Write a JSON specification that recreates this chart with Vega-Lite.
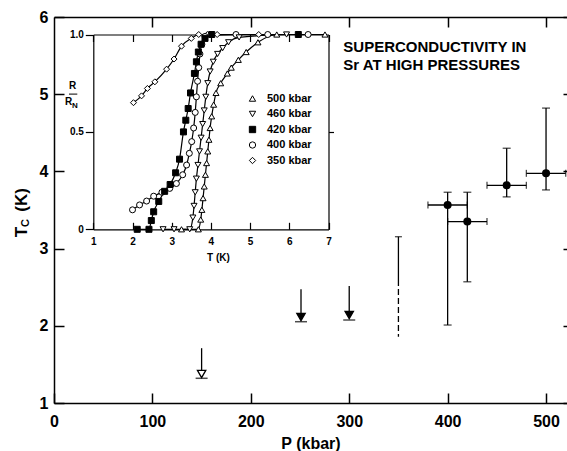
{
  "$schema": "https://vega.github.io/schema/vega-lite/v6.json",
  "width": 513,
  "height": 386,
  "autosize": {"type": "none"},
  "padding": {"left": 54, "top": 17, "right": 0, "bottom": 48},
  "background": "white",
  "config": {
    "view": {"stroke": null},
    "font": "Liberation Sans",
    "axis": {"domainColor": "black", "tickColor": "black", "labelColor": "black", "titleColor": "black", "grid": false, "domainWidth": 1.5, "tickWidth": 1.5, "labelOverlap": false, "labelFlush": false, "labelBound": false}
  },
  "datasets": {
    "main": [
      {"P": 400, "Tc": 3.565, "Tlo": 2.01, "Thi": 3.73, "Plo": 380, "Phi": 420},
      {"P": 420, "Tc": 3.35, "Tlo": 2.57, "Thi": 3.73, "Plo": 400, "Phi": 440},
      {"P": 460, "Tc": 3.82, "Tlo": 3.67, "Thi": 4.30, "Plo": 440, "Phi": 480},
      {"P": 500, "Tc": 3.975, "Tlo": 3.76, "Thi": 4.82, "Plo": 480, "Phi": 520}
    ],
    "limits": [
      {"P": 150, "top": 1.71, "Tc": 1.376, "bar": 1.32, "kind": "open"},
      {"P": 251, "top": 2.473, "Tc": 2.114, "bar": 2.053, "kind": "filled"},
      {"P": 300, "top": 2.516, "Tc": 2.14, "bar": 2.075, "kind": "filled"}
    ],
    "p350": [
      {"P": 350, "from": 3.154, "to": 2.593, "segment": "solid"},
      {"P": 350, "from": 2.593, "to": 1.859, "segment": "dashed"}
    ],
    "heading": [
      {"P": 294, "Tc": 5.615, "text": "SUPERCONDUCTIVITY IN"},
      {"P": 294, "Tc": 5.372, "text": "Sr AT HIGH PRESSURES"}
    ],
    "ytitle": [
      {"P": -32.5, "Tc": 3.215, "text": "T"},
      {"P": -32.5, "Tc": 3.63, "text": "(K)"}
    ],
    "ysub": [{"P": -28.5, "Tc": 3.33, "text": "C"}],
    "rn": [
      {"T": 0.469, "R": 0.735, "text": "R"},
      {"T": 0.372, "R": 0.656, "text": "R"}
    ],
    "rnsub": [{"T": 0.528, "R": 0.635, "text": "N"}],
    "rnbar": [{"T": 0.38, "T2": 0.592, "R": 0.694}],
    "curves": [
      {"series": "350 kbar", "T": 2.025, "R": 0.65},
      {"series": "350 kbar", "T": 2.23, "R": 0.685},
      {"series": "350 kbar", "T": 2.38, "R": 0.723},
      {"series": "350 kbar", "T": 2.57, "R": 0.757},
      {"series": "350 kbar", "T": 2.87, "R": 0.822},
      {"series": "350 kbar", "T": 3.06, "R": 0.874},
      {"series": "350 kbar", "T": 3.25, "R": 0.94},
      {"series": "350 kbar", "T": 3.5, "R": 0.98},
      {"series": "350 kbar", "T": 3.69, "R": 1.0},
      {"series": "350 kbar", "T": 3.91, "R": 1.0},
      {"series": "350 kbar", "T": 4.16, "R": 1.0},
      {"series": "350 kbar", "T": 5.22, "R": 1.0},
      {"series": "400 kbar", "T": 2.0, "R": 0.1},
      {"series": "400 kbar", "T": 2.18, "R": 0.125},
      {"series": "400 kbar", "T": 2.36, "R": 0.145},
      {"series": "400 kbar", "T": 2.54, "R": 0.17},
      {"series": "400 kbar", "T": 2.75, "R": 0.19},
      {"series": "400 kbar", "T": 2.95, "R": 0.21},
      {"series": "400 kbar", "T": 3.12, "R": 0.235},
      {"series": "400 kbar", "T": 3.28, "R": 0.28},
      {"series": "400 kbar", "T": 3.38, "R": 0.33},
      {"series": "400 kbar", "T": 3.45, "R": 0.39},
      {"series": "400 kbar", "T": 3.51, "R": 0.45},
      {"series": "400 kbar", "T": 3.56, "R": 0.52},
      {"series": "400 kbar", "T": 3.6, "R": 0.6},
      {"series": "400 kbar", "T": 3.63, "R": 0.68},
      {"series": "400 kbar", "T": 3.66, "R": 0.76},
      {"series": "400 kbar", "T": 3.69, "R": 0.83},
      {"series": "400 kbar", "T": 3.72, "R": 0.9},
      {"series": "400 kbar", "T": 3.77, "R": 0.95},
      {"series": "400 kbar", "T": 3.85, "R": 0.99},
      {"series": "400 kbar", "T": 4.64, "R": 1.0},
      {"series": "400 kbar", "T": 5.45, "R": 1.0},
      {"series": "400 kbar", "T": 6.48, "R": 1.0},
      {"series": "420 kbar", "T": 2.12, "R": 0.0},
      {"series": "420 kbar", "T": 2.42, "R": 0.0},
      {"series": "420 kbar", "T": 2.48, "R": 0.045},
      {"series": "420 kbar", "T": 2.54, "R": 0.09},
      {"series": "420 kbar", "T": 2.67, "R": 0.143},
      {"series": "420 kbar", "T": 2.82, "R": 0.195},
      {"series": "420 kbar", "T": 2.96, "R": 0.23},
      {"series": "420 kbar", "T": 3.1, "R": 0.29},
      {"series": "420 kbar", "T": 3.2, "R": 0.36},
      {"series": "420 kbar", "T": 3.3, "R": 0.5},
      {"series": "420 kbar", "T": 3.36, "R": 0.56},
      {"series": "420 kbar", "T": 3.42, "R": 0.62},
      {"series": "420 kbar", "T": 3.48, "R": 0.7},
      {"series": "420 kbar", "T": 3.58, "R": 0.8},
      {"series": "420 kbar", "T": 3.63, "R": 0.86},
      {"series": "420 kbar", "T": 3.68, "R": 0.91},
      {"series": "420 kbar", "T": 3.75, "R": 0.95},
      {"series": "420 kbar", "T": 3.85, "R": 0.98},
      {"series": "420 kbar", "T": 4.02, "R": 1.0},
      {"series": "420 kbar", "T": 6.23, "R": 1.0},
      {"series": "460 kbar", "T": 2.78, "R": 0.0},
      {"series": "460 kbar", "T": 3.06, "R": 0.0},
      {"series": "460 kbar", "T": 3.46, "R": 0.0},
      {"series": "460 kbar", "T": 3.54, "R": 0.06},
      {"series": "460 kbar", "T": 3.57, "R": 0.12},
      {"series": "460 kbar", "T": 3.6, "R": 0.19},
      {"series": "460 kbar", "T": 3.63, "R": 0.26},
      {"series": "460 kbar", "T": 3.67, "R": 0.33},
      {"series": "460 kbar", "T": 3.71, "R": 0.4},
      {"series": "460 kbar", "T": 3.75, "R": 0.47},
      {"series": "460 kbar", "T": 3.79, "R": 0.54},
      {"series": "460 kbar", "T": 3.83, "R": 0.61},
      {"series": "460 kbar", "T": 3.87, "R": 0.68},
      {"series": "460 kbar", "T": 3.92, "R": 0.75},
      {"series": "460 kbar", "T": 3.98, "R": 0.81},
      {"series": "460 kbar", "T": 4.06, "R": 0.86},
      {"series": "460 kbar", "T": 4.17, "R": 0.9},
      {"series": "460 kbar", "T": 4.3, "R": 0.93},
      {"series": "460 kbar", "T": 4.45, "R": 0.96},
      {"series": "460 kbar", "T": 4.72, "R": 0.985},
      {"series": "460 kbar", "T": 5.93, "R": 1.0},
      {"series": "500 kbar", "T": 3.25, "R": 0.0},
      {"series": "500 kbar", "T": 3.68, "R": 0.0},
      {"series": "500 kbar", "T": 3.74, "R": 0.05},
      {"series": "500 kbar", "T": 3.77, "R": 0.1},
      {"series": "500 kbar", "T": 3.8, "R": 0.16},
      {"series": "500 kbar", "T": 3.83, "R": 0.22},
      {"series": "500 kbar", "T": 3.86, "R": 0.28},
      {"series": "500 kbar", "T": 3.89, "R": 0.34},
      {"series": "500 kbar", "T": 3.92, "R": 0.4},
      {"series": "500 kbar", "T": 3.95, "R": 0.46},
      {"series": "500 kbar", "T": 3.98, "R": 0.52},
      {"series": "500 kbar", "T": 4.02, "R": 0.58},
      {"series": "500 kbar", "T": 4.07, "R": 0.64},
      {"series": "500 kbar", "T": 4.13, "R": 0.7},
      {"series": "500 kbar", "T": 4.25, "R": 0.75},
      {"series": "500 kbar", "T": 4.42, "R": 0.8},
      {"series": "500 kbar", "T": 4.52, "R": 0.83},
      {"series": "500 kbar", "T": 4.7, "R": 0.87},
      {"series": "500 kbar", "T": 4.9, "R": 0.91},
      {"series": "500 kbar", "T": 5.2, "R": 0.96},
      {"series": "500 kbar", "T": 5.68, "R": 1.0},
      {"series": "500 kbar", "T": 6.91, "R": 1.0}
    ]
  },
  "layer": [
    {
      "layer": [
        {
          "data": {"name": "main"},
          "mark": {"type": "rule", "color": "black", "strokeWidth": 1.3},
          "encoding": {
            "x": {"field": "P", "type": "quantitative", "scale": {"domain": [0, 521.3], "nice": false, "zero": false},
              "axis": {"orient": "bottom", "values": [0, 100, 200, 300, 400, 500], "tickSize": -10, "labelPadding": 20, "labelFontSize": 16, "labelFontWeight": "bold", "title": "P (kbar)", "titleFontSize": 16, "titleFontWeight": "bold", "titlePadding": 6}},
            "y": {"field": "Tlo", "type": "quantitative", "scale": {"domain": [1, 6], "nice": false, "zero": false},
              "axis": {"orient": "left", "values": [1, 2, 3, 4, 5, 6], "tickSize": -10, "labelPadding": 16, "labelFontSize": 16, "labelFontWeight": "bold", "title": null}},
            "y2": {"field": "Thi"}
          }
        },
        {
          "data": {"name": "main"},
          "mark": {"type": "rule", "color": "black", "strokeWidth": 1.3},
          "encoding": {
            "x": {"field": "Plo", "type": "quantitative", "scale": {"domain": [0, 521.3], "nice": false, "zero": false}, "axis": null},
            "x2": {"field": "Phi"},
            "y": {"field": "Tc", "type": "quantitative", "scale": {"domain": [1, 6], "nice": false, "zero": false}, "axis": null}
          }
        },
        {
          "data": {"name": "main"},
          "mark": {"type": "tick", "orient": "horizontal", "color": "black", "size": 8, "thickness": 1.3},
          "encoding": {
            "x": {"field": "P", "type": "quantitative", "scale": {"domain": [0, 521.3], "nice": false, "zero": false}, "axis": null},
            "y": {"field": "Thi", "type": "quantitative", "scale": {"domain": [1, 6], "nice": false, "zero": false}, "axis": null}
          }
        },
        {
          "data": {"name": "main"},
          "mark": {"type": "tick", "orient": "horizontal", "color": "black", "size": 8, "thickness": 1.3},
          "encoding": {
            "x": {"field": "P", "type": "quantitative", "scale": {"domain": [0, 521.3], "nice": false, "zero": false}, "axis": null},
            "y": {"field": "Tlo", "type": "quantitative", "scale": {"domain": [1, 6], "nice": false, "zero": false}, "axis": null}
          }
        },
        {
          "data": {"name": "main"},
          "mark": {"type": "tick", "orient": "vertical", "color": "black", "size": 7, "thickness": 1.3},
          "encoding": {
            "x": {"field": "Plo", "type": "quantitative", "scale": {"domain": [0, 521.3], "nice": false, "zero": false}, "axis": null},
            "y": {"field": "Tc", "type": "quantitative", "scale": {"domain": [1, 6], "nice": false, "zero": false}, "axis": null}
          }
        },
        {
          "data": {"name": "main"},
          "mark": {"type": "tick", "orient": "vertical", "color": "black", "size": 7, "thickness": 1.3},
          "encoding": {
            "x": {"field": "Phi", "type": "quantitative", "scale": {"domain": [0, 521.3], "nice": false, "zero": false}, "axis": null},
            "y": {"field": "Tc", "type": "quantitative", "scale": {"domain": [1, 6], "nice": false, "zero": false}, "axis": null}
          }
        },
        {
          "data": {"name": "main"},
          "mark": {"type": "point", "shape": "circle", "filled": true, "color": "black", "size": 64, "opacity": 1},
          "encoding": {
            "x": {"field": "P", "type": "quantitative", "scale": {"domain": [0, 521.3], "nice": false, "zero": false}, "axis": null},
            "y": {"field": "Tc", "type": "quantitative", "scale": {"domain": [1, 6], "nice": false, "zero": false}, "axis": null}
          }
        },
        {
          "data": {"name": "p350"},
          "mark": {"type": "rule", "color": "black", "strokeWidth": 1.3},
          "encoding": {
            "x": {"field": "P", "type": "quantitative", "scale": {"domain": [0, 521.3], "nice": false, "zero": false}, "axis": null},
            "y": {"field": "from", "type": "quantitative", "scale": {"domain": [1, 6], "nice": false, "zero": false}, "axis": null},
            "y2": {"field": "to"},
            "strokeDash": {"field": "segment", "type": "nominal", "scale": {"domain": ["solid", "dashed"], "range": [[1, 0], [6, 3]]}, "legend": null}
          }
        },
        {
          "data": {"name": "p350"},
          "transform": [{"filter": "datum.segment == 'solid'"}],
          "mark": {"type": "tick", "orient": "horizontal", "color": "black", "size": 7, "thickness": 1.3},
          "encoding": {
            "x": {"field": "P", "type": "quantitative", "scale": {"domain": [0, 521.3], "nice": false, "zero": false}, "axis": null},
            "y": {"field": "from", "type": "quantitative", "scale": {"domain": [1, 6], "nice": false, "zero": false}, "axis": null}
          }
        },
        {
          "data": {"name": "limits"},
          "mark": {"type": "rule", "color": "black", "strokeWidth": 1.3},
          "encoding": {
            "x": {"field": "P", "type": "quantitative", "scale": {"domain": [0, 521.3], "nice": false, "zero": false}, "axis": null},
            "y": {"field": "top", "type": "quantitative", "scale": {"domain": [1, 6], "nice": false, "zero": false}, "axis": null},
            "y2": {"field": "Tc"}
          }
        },
        {
          "data": {"name": "limits"},
          "mark": {"type": "tick", "orient": "horizontal", "color": "black", "size": 12, "thickness": 1.5},
          "encoding": {
            "x": {"field": "P", "type": "quantitative", "scale": {"domain": [0, 521.3], "nice": false, "zero": false}, "axis": null},
            "y": {"field": "bar", "type": "quantitative", "scale": {"domain": [1, 6], "nice": false, "zero": false}, "axis": null}
          }
        },
        {
          "data": {"name": "limits"},
          "mark": {"type": "point", "shape": "triangle-down", "size": 70, "stroke": "black", "strokeWidth": 1.3, "opacity": 1},
          "encoding": {
            "x": {"field": "P", "type": "quantitative", "scale": {"domain": [0, 521.3], "nice": false, "zero": false}, "axis": null},
            "y": {"field": "Tc", "type": "quantitative", "scale": {"domain": [1, 6], "nice": false, "zero": false}, "axis": null},
            "fill": {"condition": {"test": "datum.kind == 'filled'", "value": "black"}, "value": "white"}
          }
        },
        {
          "data": {"name": "heading"},
          "mark": {"type": "text", "align": "left", "baseline": "middle", "fontSize": 15, "fontWeight": "bold", "color": "black"},
          "encoding": {
            "x": {"field": "P", "type": "quantitative", "scale": {"domain": [0, 521.3], "nice": false, "zero": false},
              "axis": {"orient": "top", "values": [100, 200, 300, 400, 500], "tickSize": -10, "labels": false, "title": null}},
            "y": {"field": "Tc", "type": "quantitative", "scale": {"domain": [1, 6], "nice": false, "zero": false},
              "axis": {"orient": "right", "values": [1, 2, 3, 4, 5, 6], "tickSize": -4, "labels": false, "title": null, "domain": false}},
            "text": {"field": "text"}
          }
        },
        {
          "data": {"name": "ytitle"},
          "mark": {"type": "text", "align": "center", "baseline": "middle", "angle": 270, "fontSize": 17, "fontWeight": "bold", "color": "black"},
          "encoding": {
            "x": {"field": "P", "type": "quantitative", "scale": {"domain": [0, 521.3], "nice": false, "zero": false}, "axis": null},
            "y": {"field": "Tc", "type": "quantitative", "scale": {"domain": [1, 6], "nice": false, "zero": false}, "axis": null},
            "text": {"field": "text"}
          }
        },
        {
          "data": {"name": "ysub"},
          "mark": {"type": "text", "align": "center", "baseline": "middle", "angle": 270, "fontSize": 11, "fontWeight": "bold", "color": "black"},
          "encoding": {
            "x": {"field": "P", "type": "quantitative", "scale": {"domain": [0, 521.3], "nice": false, "zero": false}, "axis": null},
            "y": {"field": "Tc", "type": "quantitative", "scale": {"domain": [1, 6], "nice": false, "zero": false}, "axis": null},
            "text": {"field": "text"}
          }
        }
      ],
      "resolve": {"axis": {"x": "independent", "y": "independent"}}
    },
    {
      "layer": [
        {
          "data": {"name": "curves"},
          "mark": {"type": "line", "color": "black", "strokeWidth": 1.2, "interpolate": "monotone"},
          "encoding": {
            "x": {"field": "T", "type": "quantitative", "scale": {"domain": [1, 7], "range": [39.3, 274.5], "nice": false, "zero": false},
              "axis": {"orient": "bottom", "offset": -173.7, "values": [1, 2, 3, 4, 5, 6, 7], "tickSize": -7, "labelPadding": 14, "labelFontSize": 10, "labelFontWeight": "bold", "domainWidth": 1.2, "tickWidth": 1.2,
                "title": "T (K)", "titleFontSize": 10, "titleFontWeight": "bold", "titleX": 164, "titleY": 28, "titleBaseline": "middle", "titleAlign": "center", "titleAnchor": null}},
            "y": {"field": "R", "type": "quantitative", "scale": {"domain": [0, 1], "range": [212.3, 17.5], "nice": false, "zero": false},
              "axis": {"orient": "left", "offset": -39.3, "values": [0, 0.5, 1], "tickSize": 8, "labelPadding": 2, "labelFontSize": 10, "labelFontWeight": "bold", "domainWidth": 1.2, "tickWidth": 1.2,
                "labelExpr": "datum.value == 0 ? '0' : format(datum.value, '.1f')", "title": null}},
            "detail": {"field": "series", "type": "nominal"}
          }
        },
        {
          "data": {"name": "curves"},
          "mark": {"type": "point", "strokeWidth": 1, "size": 36, "opacity": 1},
          "encoding": {
            "x": {"field": "T", "type": "quantitative", "scale": {"domain": [1, 7], "range": [39.3, 274.5], "nice": false, "zero": false},
              "axis": {"orient": "top", "offset": -17.5, "values": [1, 2, 3, 4, 5, 6, 7], "tickSize": -7, "labels": false, "title": null, "domainWidth": 1.2, "tickWidth": 1.2}},
            "y": {"field": "R", "type": "quantitative", "scale": {"domain": [0, 1], "range": [212.3, 17.5], "nice": false, "zero": false},
              "axis": {"orient": "right", "offset": -238.5, "values": [0.5], "tickSize": 5, "labels": false, "title": null, "domainWidth": 1.2, "tickWidth": 1.2}},
            "shape": {"field": "series", "type": "nominal",
              "scale": {"domain": ["500 kbar", "460 kbar", "420 kbar", "400 kbar", "350 kbar"], "range": ["triangle-up", "triangle-down", "square", "circle", "diamond"]},
              "legend": {"orient": "none", "legendX": 193, "legendY": 76, "title": null, "labelFontSize": 11, "labelFontWeight": "bold", "labelColor": "black", "symbolSize": 40, "symbolStrokeWidth": 1, "labelOffset": 9, "rowPadding": 3.5, "padding": 0}},
            "fill": {"field": "series", "type": "nominal",
              "scale": {"domain": ["500 kbar", "460 kbar", "420 kbar", "400 kbar", "350 kbar"], "range": ["white", "white", "black", "white", "white"]},
              "legend": {"orient": "none", "legendX": 193, "legendY": 76, "title": null, "labelFontSize": 11, "labelFontWeight": "bold", "labelColor": "black", "symbolSize": 40, "symbolStrokeWidth": 1, "labelOffset": 9, "rowPadding": 3.5, "padding": 0}},
            "stroke": {"field": "series", "type": "nominal",
              "scale": {"domain": ["500 kbar", "460 kbar", "420 kbar", "400 kbar", "350 kbar"], "range": ["black", "black", "black", "black", "black"]},
              "legend": {"orient": "none", "legendX": 193, "legendY": 76, "title": null, "labelFontSize": 11, "labelFontWeight": "bold", "labelColor": "black", "symbolSize": 40, "symbolStrokeWidth": 1, "labelOffset": 9, "rowPadding": 3.5, "padding": 0}}
          }
        },
        {
          "data": {"name": "rn"},
          "mark": {"type": "text", "align": "center", "baseline": "middle", "fontSize": 10, "fontWeight": "bold", "color": "black"},
          "encoding": {
            "x": {"field": "T", "type": "quantitative", "scale": {"domain": [1, 7], "range": [39.3, 274.5], "nice": false, "zero": false}, "axis": null},
            "y": {"field": "R", "type": "quantitative", "scale": {"domain": [0, 1], "range": [212.3, 17.5], "nice": false, "zero": false}, "axis": null},
            "text": {"field": "text"}
          }
        },
        {
          "data": {"name": "rnsub"},
          "mark": {"type": "text", "align": "center", "baseline": "middle", "fontSize": 8, "fontWeight": "bold", "color": "black"},
          "encoding": {
            "x": {"field": "T", "type": "quantitative", "scale": {"domain": [1, 7], "range": [39.3, 274.5], "nice": false, "zero": false}, "axis": null},
            "y": {"field": "R", "type": "quantitative", "scale": {"domain": [0, 1], "range": [212.3, 17.5], "nice": false, "zero": false}, "axis": null},
            "text": {"field": "text"}
          }
        },
        {
          "data": {"name": "rnbar"},
          "mark": {"type": "rule", "color": "black", "strokeWidth": 1},
          "encoding": {
            "x": {"field": "T", "type": "quantitative", "scale": {"domain": [1, 7], "range": [39.3, 274.5], "nice": false, "zero": false}, "axis": null},
            "x2": {"field": "T2"},
            "y": {"field": "R", "type": "quantitative", "scale": {"domain": [0, 1], "range": [212.3, 17.5], "nice": false, "zero": false}, "axis": null}
          }
        }
      ],
      "resolve": {"axis": {"x": "independent", "y": "independent"}}
    }
  ],
  "resolve": {"scale": {"x": "independent", "y": "independent"}, "axis": {"x": "independent", "y": "independent"}}
}
